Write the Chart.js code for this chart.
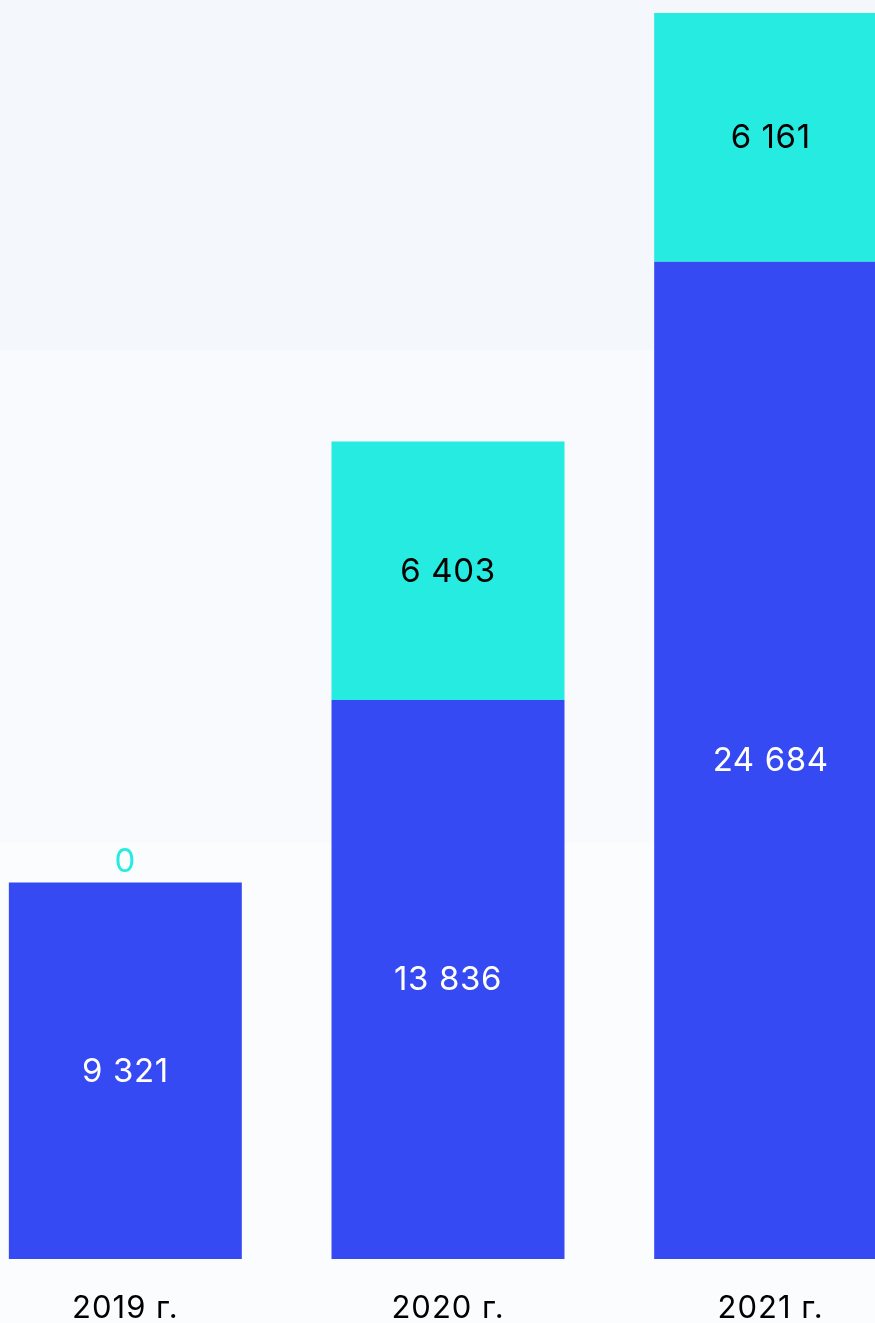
<!DOCTYPE html>
<html>
<head>
<meta charset="utf-8">
<script src="https://cdn.jsdelivr.net/npm/chart.js@4.4.0/dist/chart.umd.min.js"></script>
<style>
  html, body {
    margin: 0;
    padding: 0;
    width: 875px;
    height: 1323px;
    overflow: hidden;
    background: linear-gradient(to bottom, #f4f8fc 0px, #f4f8fc 350px, #f8fafe 350px, #f8fafe 843px, #fbfcfe 843px, #fbfcfe 100%);
  }
  .wrap {
    position: absolute;
    left: -36px;
    top: 0;
    width: 968px;
    height: 1323px;
  }
</style>
</head>
<body>
<div class="wrap"><canvas id="barChart"></canvas></div>
<script>
// данные
const years = ['2019 г.', '2020 г.', '2021 г.'];
const blueValues = [9321, 13836, 24684];
const cyanValues = [0, 6403, 6161];

const BLUE = '#354af2';
const CYAN = '#25ebe0';
const FONT = 'Inter, "Liberation Sans", sans-serif';

const fmt = v => String(v).replace(/\B(?=(\d{3})+(?!\d))/g, ' ');

// чуть разреженный шрифт для подписей оси
const spacing = {
  id: 'spacing',
  beforeDraw(chart) {
    chart.ctx.letterSpacing = '1px';
  }
};

// подписи значений внутри столбцов
const valueLabels = {
  id: 'valueLabels',
  afterDatasetsDraw(chart) {
    const ctx = chart.ctx;
    ctx.save();
    ctx.font = '33px ' + FONT;
    ctx.letterSpacing = '0.6px';
    ctx.textAlign = 'center';
    ctx.textBaseline = 'middle';
    chart.data.datasets.forEach((ds, i) => {
      const meta = chart.getDatasetMeta(i);
      meta.data.forEach((bar, j) => {
        const v = ds.data[j];
        if (v === 0) {
          ctx.fillStyle = ds.backgroundColor;
          ctx.fillText(fmt(v), bar.x, bar.y - 20);
        } else {
          ctx.fillStyle = ds.labelColor;
          ctx.fillText(fmt(v), bar.x, (bar.y + bar.base) / 2 + 1);
        }
      });
    });
    ctx.restore();
  }
};

const ctx = document.getElementById('barChart').getContext('2d');
new Chart(ctx, {
  type: 'bar',
  data: {
    labels: years,
    datasets: [
      { data: blueValues, backgroundColor: BLUE, labelColor: '#ffffff' },
      { data: cyanValues, backgroundColor: CYAN, labelColor: '#000000' }
    ]
  },
  options: {
    responsive: true,
    maintainAspectRatio: false,
    animation: false,
    layout: { padding: 0 },
    datasets: {
      bar: { categoryPercentage: 1, barPercentage: 0.722, borderWidth: 0 }
    },
    plugins: {
      legend: { display: false },
      tooltip: { enabled: false }
    },
    scales: {
      x: {
        stacked: true,
        grid: { display: false, drawTicks: false },
        border: { display: false },
        ticks: { color: '#000000', padding: 31, font: { family: FONT, size: 31 } },
        afterFit(scale) { scale.height = 64; }
      },
      y: {
        stacked: true,
        display: false,
        min: 0,
        max: 31166
      }
    }
  },
  plugins: [spacing, valueLabels]
});
</script>
</body>
</html>
